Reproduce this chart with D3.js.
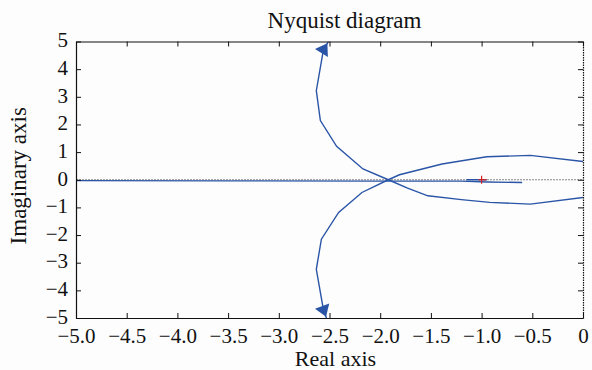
<!DOCTYPE html>
<html>
<head>
<meta charset="utf-8">
<script src="https://cdn.jsdelivr.net/npm/d3@7"></script>
<style>
  body { margin: 0; background: #fdfdfd; }
  svg text { font-family: "Liberation Serif", "Times New Roman", "DejaVu Serif", serif !important; fill: #111; }
</style>
</head>
<body>
<div class="chart"></div>
<script>
// Define SVG area dimensions
var svgWidth = 592;
var svgHeight = 370;

var margin = { top: 41.5, right: 9, bottom: 52, left: 76 };
var width = svgWidth - margin.left - margin.right;
var height = svgHeight - margin.top - margin.bottom;

// Data
var xTicks = [-5.0, -4.5, -4.0, -3.5, -3.0, -2.5, -2.0, -1.5, -1.0, -0.5, 0];
var yTicks = [-5, -4, -3, -2, -1, 0, 1, 2, 3, 4, 5];

// branch from the top arrow, through the crossing, to the lower right
var reA = [-2.51, -2.56, -2.63, -2.59, -2.43, -2.17, -1.92, -1.73, -1.53, -1.2, -0.92, -0.52, 0];
var imA = [5.0, 4.7, 3.22, 2.14, 1.21, 0.39, 0.0, -0.3, -0.58, -0.72, -0.82, -0.88, -0.64];

// branch from the bottom arrow, through the crossing, to the upper right
var reB = [-2.53, -2.56, -2.63, -2.58, -2.41, -2.18, -1.92, -1.81, -1.39, -0.95, -0.52, 0];
var imB = [-5.0, -4.7, -3.24, -2.15, -1.18, -0.46, 0.0, 0.18, 0.57, 0.83, 0.88, 0.66];

// line lying along the real axis
var reC = [-5.0, -3.5, -2.0, -1.2, -0.95, -0.6];
var imC = [-0.03, -0.04, -0.05, -0.05, -0.08, -0.1];
var reD = [-1.15, -0.95];
var imD = [0.0, 0.0];

var blue = "#2a55a6";

var svg = d3.select(".chart")
  .append("svg")
  .attr("width", svgWidth)
  .attr("height", svgHeight);

var chart = svg.append("g")
  .attr("transform", `translate(${margin.left}, ${margin.top})`);

var x = d3.scaleLinear().domain([-5, 0]).range([0, width]);
var y = d3.scaleLinear().domain([-5, 5]).range([height, 0]);

svg.append("defs").append("clipPath").attr("id", "clip")
  .append("rect").attr("width", width).attr("height", height);

// zero line
chart.append("line")
  .attr("x1", 0).attr("x2", width)
  .attr("y1", y(0)).attr("y2", y(0))
  .attr("stroke", "#888").attr("stroke-width", 1)
  .attr("stroke-dasharray", "2,1");

var line = d3.line()
  .x(function(d) { return x(d[0]); })
  .y(function(d) { return y(d[1]); });

function pts(re, im) {
  return re.map(function(r, i) { return [r, im[i]]; });
}

var plot = chart.append("g").attr("clip-path", "url(#clip)");

[pts(reA, imA), pts(reB, imB), pts(reC, imC), pts(reD, imD)].forEach(function(p) {
  plot.append("path")
    .attr("d", line(p))
    .attr("fill", "none")
    .attr("stroke", blue)
    .attr("stroke-width", 1.4);
});

// arrows on the two arms
function arrow(re, im, i) {
  var x0 = x(re[i]), y0 = y(im[i]);
  var x1 = x(re[i - 1]), y1 = y(im[i - 1]);
  var ang = Math.atan2(y1 - y0, x1 - x0) * 180 / Math.PI + 90;
  chart.append("path")
    .attr("d", d3.symbol().type(d3.symbolTriangle).size(75)())
    .attr("transform", `translate(${x0},${y0}) rotate(${ang}) scale(1.15,1)`)
    .attr("fill", blue);
}
arrow(reA, imA, 1);
arrow(reB, imB, 1);

// critical point -1
chart.append("line")
  .attr("x1", x(-1)).attr("x2", x(-1))
  .attr("y1", y(0) - 4).attr("y2", y(0) + 4)
  .attr("stroke", "#d62020").attr("stroke-width", 1.2);
chart.append("line")
  .attr("x1", x(-1) - 3).attr("x2", x(-1) + 5)
  .attr("y1", y(0)).attr("y2", y(0))
  .attr("stroke", "#d62020").attr("stroke-width", 1.2);

// axes with inward ticks
chart.append("g")
  .attr("class", "x axis")
  .attr("transform", `translate(0,${height})`)
  .call(d3.axisBottom(x).tickValues(xTicks).tickSizeInner(-5).tickSizeOuter(0).tickPadding(10)
    .tickFormat(function(d) { return d === 0 ? "0" : d3.format(".1f")(d); }));

chart.append("g")
  .attr("class", "x axis")
  .call(d3.axisTop(x).tickValues(xTicks).tickSizeInner(-5).tickSizeOuter(0).tickFormat(""));

chart.append("g")
  .attr("class", "y axis")
  .call(d3.axisLeft(y).tickValues(yTicks).tickSizeInner(-5).tickSizeOuter(0).tickPadding(8)
    .tickFormat(d3.format("d")));

chart.append("g")
  .attr("class", "y axis right")
  .attr("transform", `translate(${width},0)`)
  .call(d3.axisRight(y).tickValues(yTicks).tickSizeInner(-5).tickSizeOuter(0).tickFormat(""));

chart.selectAll(".axis").attr("font-family", null);
chart.selectAll(".axis path").attr("stroke", "#111").attr("stroke-width", 1.2);
chart.selectAll(".axis line").attr("stroke", "#111");
chart.select(".right path").attr("stroke-dasharray", "1.5,1");
chart.selectAll(".axis text")
  .style("font-size", "21px")
  .attr("fill", "#111");
chart.selectAll(".y.axis text").attr("dy", "0.25em");

// title and axis labels
chart.append("text")
  .attr("x", width / 2 + 15)
  .attr("y", -14)
  .style("text-anchor", "middle")
  .style("font-size", "23px")
  .text("Nyquist diagram");

chart.append("text")
  .attr("x", width / 2 + 6)
  .attr("y", height + 48)
  .style("text-anchor", "middle")
  .style("font-size", "22px")
  .text("Real axis");

chart.append("text")
  .attr("transform", "rotate(-90)")
  .attr("x", 0 - height / 2 + 4)
  .attr("y", -50)
  .style("text-anchor", "middle")
  .style("font-size", "23px")
  .text("Imaginary axis");
</script>
</body>
</html>
